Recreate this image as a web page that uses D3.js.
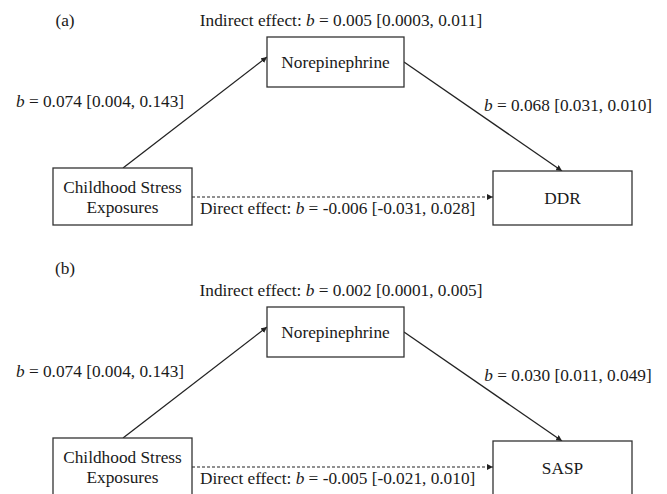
<!DOCTYPE html>
<meta charset="utf-8">
<style>
  body { margin: 0; background: #fff; }
  text { font-family: "Liberation Serif", "Times New Roman", serif; font-size: 17.3px; fill: #1a1a1a; }
</style>
<body></body>
<script src="https://d3js.org/d3.v7.min.js"></script>
<script>
  // model values, one entry per panel
  var panelNames = ["(a)", "(b)"];
  var outcomes = ["DDR", "SASP"];
  var mediator = "Norepinephrine";
  var predictor = ["Childhood Stress", "Exposures"];
  var indirectB = [["0.005", "0.0003", "0.011"], ["0.002", "0.0001", "0.005"]];
  var pathA = [["0.074", "0.004", "0.143"], ["0.074", "0.004", "0.143"]];
  var pathB = [["0.068", "0.031", "0.010"], ["0.030", "0.011", "0.049"]];
  var directB = [["-0.006", "-0.031", "0.028"], ["-0.005", "-0.021", "0.010"]];

  var width = 667, height = 494;

  var svg = d3.select("body").append("svg")
    .attr("width", width)
    .attr("height", height);

  var defs = svg.append("defs");
  defs.append("marker")
    .attr("id", "arrow")
    .attr("viewBox", "0 0 10 10")
    .attr("refX", 10).attr("refY", 5)
    .attr("markerWidth", 6).attr("markerHeight", 6)
    .attr("markerUnits", "userSpaceOnUse")
    .attr("orient", "auto")
    .append("path")
    .attr("d", "M0,0 L10,5 L0,10 z")
    .attr("fill", "#222");

  // vertical offset of each panel
  var panelY = d3.scaleOrdinal().domain(panelNames).range([0, 270]);

  // boxes, in panel-local coordinates
  var medBox = {x0: 267, x1: 404, y0: 37, y1: 87};
  var xBox = {x0: 53, x1: 192, y0: 168, y1: 225};
  var yBox = {x0: 493, x1: 632, y0: 171, y1: 225};

  function box(g, b) {
    g.append("rect")
      .attr("x", b.x0).attr("y", b.y0)
      .attr("width", b.x1 - b.x0).attr("height", b.y1 - b.y0)
      .attr("fill", "#fff")
      .attr("stroke", "#333")
      .attr("stroke-width", 1.3);
  }

  // text with italic b
  function coef(g, x, y, prefix, v, anchor) {
    var t = g.append("text")
      .attr("x", x).attr("y", y)
      .attr("dy", "0.35em")
      .attr("text-anchor", anchor || "middle");
    if (prefix) t.append("tspan").text(prefix);
    t.append("tspan").attr("font-style", "italic").text("b");
    t.append("tspan").text(" = " + v[0] + " [" + v[1] + ", " + v[2] + "]");
  }

  panelNames.forEach(function(name, i) {
    var g = svg.append("g")
      .attr("transform", "translate(0," + panelY(name) + ")");

    g.append("text")
      .attr("x", 65).attr("y", i === 0 ? 20 : -2)
      .attr("dy", "0.35em")
      .attr("text-anchor", "middle")
      .text(name);

    // paths
    g.append("line")
      .attr("x1", 123).attr("y1", xBox.y0)
      .attr("x2", medBox.x0).attr("y2", 57)
      .attr("stroke", "#222").attr("stroke-width", 1.3)
      .attr("marker-end", "url(#arrow)");
    g.append("line")
      .attr("x1", medBox.x1).attr("y1", 62)
      .attr("x2", 562).attr("y2", yBox.y0)
      .attr("stroke", "#222").attr("stroke-width", 1.3)
      .attr("marker-end", "url(#arrow)");
    g.append("line")
      .attr("x1", xBox.x1).attr("y1", 197)
      .attr("x2", yBox.x0).attr("y2", 197)
      .attr("stroke", "#222").attr("stroke-width", 1.1)
      .attr("stroke-dasharray", "3,2")
      .attr("marker-end", "url(#arrow)");

    box(g, medBox);
    box(g, xBox);
    box(g, yBox);

    g.append("text")
      .attr("x", (medBox.x0 + medBox.x1) / 2).attr("y", 62)
      .attr("dy", "0.35em").attr("text-anchor", "middle")
      .text(mediator);
    predictor.forEach(function(line, j) {
      g.append("text")
        .attr("x", (xBox.x0 + xBox.x1) / 2).attr("y", 187 + j * 20)
        .attr("dy", "0.35em").attr("text-anchor", "middle")
        .text(line);
    });
    g.append("text")
      .attr("x", (yBox.x0 + yBox.x1) / 2).attr("y", 198)
      .attr("dy", "0.35em").attr("text-anchor", "middle")
      .text(outcomes[i]);

    coef(g, 341, 20, "Indirect effect: ", indirectB[i]);
    coef(g, 100, 101, null, pathA[i]);
    coef(g, 568, 105, null, pathB[i]);
    coef(g, 200, 208, "Direct effect: ", directB[i], "start");
  });
</script>
